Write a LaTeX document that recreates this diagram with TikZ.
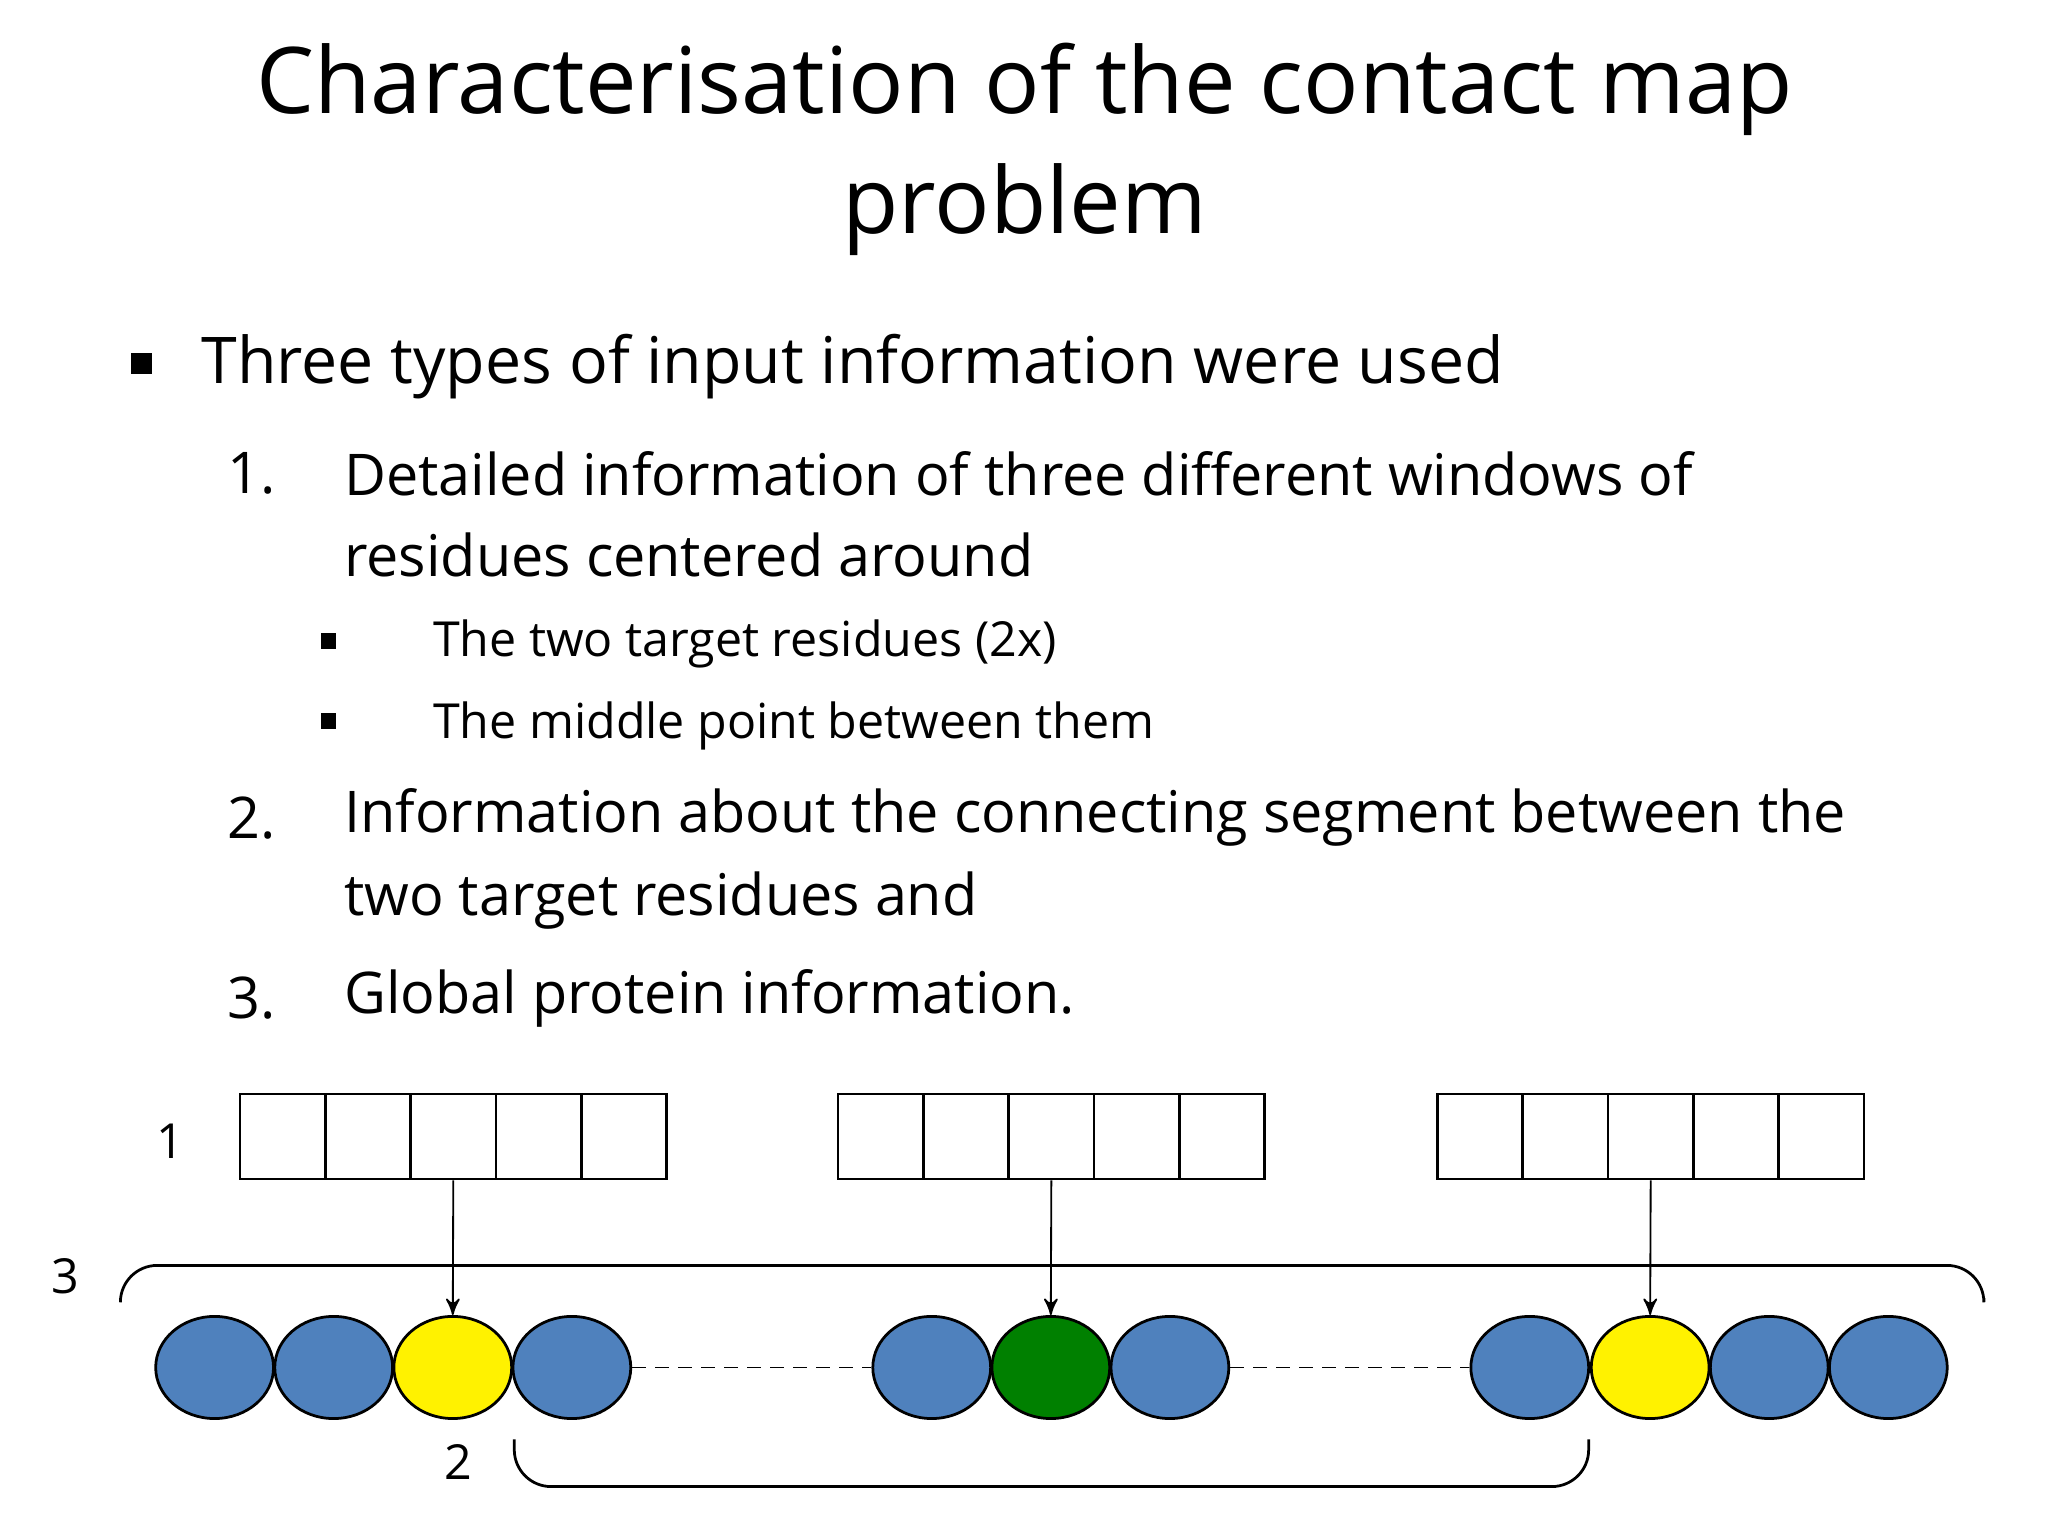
\documentclass[tikz,border=0pt]{standalone}
\usepackage{fontspec}
\setmainfont{Open Sans}
\usetikzlibrary{shapes.geometric,arrows}
\definecolor{resblue}{HTML}{4F81BD}
\definecolor{resgreen}{HTML}{008000}
\begin{document}
\begin{tikzpicture}[x=0.01cm,y=-0.01cm,>=stealth',semithick,
  res/.style={ellipse,draw,minimum width=0.9cm,minimum height=0.78cm,inner sep=0pt},
  cell/.style={draw,minimum width=0.652cm,minimum height=0.65cm,inner sep=0pt},
  txt/.style={anchor=west,inner sep=0pt},
  bul/.style={fill,minimum size=#1,inner sep=0pt}]
\useasboundingbox (0,0) rectangle (1565,1174);

% title
\node (T1) at (783,68) {\fontsize{20}{24}\selectfont Characterisation of the contact map};
\node (T2) at (783,160) {\fontsize{20}{24}\selectfont problem};

% bullets
\node[bul=0.16cm] (B0) at (108,278) {};
\node[txt] (L0) at (153,280) {\fontsize{14}{17}\selectfont Three types of input information were used};
\node[txt] (N1) at (173,362) {\fontsize{12.5}{15}\selectfont 1.};
\node[txt] (L1) at (262,362) {\fontsize{12.5}{15}\selectfont Detailed information of three different windows of};
\node[txt] (L1b) at (262,424) {\fontsize{12.5}{15}\selectfont residues centered around};
\node[bul=0.12cm] (B1) at (251,490) {};
\node[txt] (S1) at (330,492) {\fontsize{10.5}{13}\selectfont The two target residues (2x)};
\node[bul=0.12cm] (B2) at (251,551) {};
\node[txt] (S2) at (330,555) {\fontsize{10.5}{13}\selectfont The middle point between them};
\node[txt] (N2) at (173,625) {\fontsize{12.5}{15}\selectfont 2.};
\node[txt] (L2) at (262,625) {\fontsize{12.5}{15}\selectfont Information about the connecting segment between the};
\node[txt] (L2b) at (262,688) {\fontsize{12.5}{15}\selectfont two target residues and};
\node[txt] (N3) at (173,763) {\fontsize{12.5}{15}\selectfont 3.};
\node[txt] (L3) at (262,763) {\fontsize{12.5}{15}\selectfont Global protein information.};

% windows
\foreach \w/\x in {a/216,b/673,c/1131}
  \foreach \i in {0,...,4}
    \node[cell] (\w\i) at (\x+\i*65.2,868.5) {};

% residues
\foreach \n/\x/\c in {r1/164/resblue,r2/255/resblue,r3/346/yellow,r4/437/resblue,
    r5/712/resblue,r6/803/resgreen,r7/894/resblue,
    r8/1169/resblue,r9/1261/yellow,r10/1352/resblue,r11/1443/resblue}
  \node[res,fill=\c] (\n) at (\x,1045) {};

\draw[densely dashed,thin] (r4) -- (r5);
\draw[densely dashed,thin] (r7) -- (r8);

\draw[->,thin] (a2.south) -- (r3.north);
\draw[->,thin] (b2.south) -- (r6.north);
\draw[->,thin] (c2.south) -- (r9.north);

% brackets
\coordinate (G0) at (92,992);
\coordinate (G1) at (1516,992);
\draw[rounded corners=8] (G0) -- (92,967) -- (1516,967) -- (G1);
\coordinate (S0) at (393,1100);
\coordinate (S1e) at (1214,1100);
\draw[rounded corners=8] (S0) -- (393,1136) -- (1214,1136) -- (S1e);

\node (K1) at (130,872) {\fontsize{10.5}{13}\selectfont 1};
\node (K3) at (50,975) {\fontsize{10.5}{13}\selectfont 3};
\node (K2) at (350,1117) {\fontsize{10.5}{13}\selectfont 2};
\end{tikzpicture}
\end{document}
